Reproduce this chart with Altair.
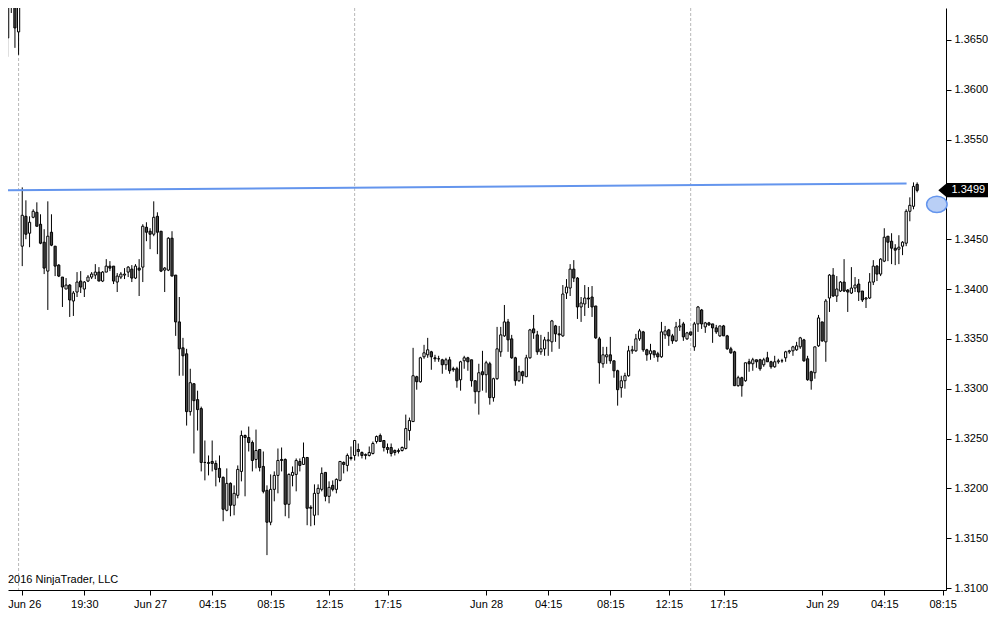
import altair as alt
import pandas as pd

# ---- data (15-minute GBP/USD bars) ----
bar_index = list(range(-5, 246))

opens = [1.3676, 1.3652, 1.3702, 1.3688, 1.3658,
 1.3443, 1.3473, 1.3456, 1.3472, 1.3477, 1.3465, 1.3447, 1.3418, 1.3457, 1.3443,
 1.3424, 1.3412, 1.3400, 1.3404, 1.3388, 1.3397, 1.3408, 1.3400, 1.3408, 1.3412,
 1.3414, 1.3417, 1.3408, 1.3417, 1.3423, 1.3423, 1.3407, 1.3412, 1.3414, 1.3417,
 1.3420, 1.3411, 1.3421, 1.3422, 1.3462, 1.3458, 1.3455, 1.3473, 1.3458, 1.3419,
 1.3419, 1.3451, 1.3414, 1.3367, 1.3341, 1.3335, 1.3277, 1.3305, 1.3289, 1.3280,
 1.3226, 1.3225, 1.3227, 1.3225, 1.3220, 1.3211, 1.3178, 1.3205, 1.3183, 1.3193,
 1.3217, 1.3253, 1.3251, 1.3246, 1.3229, 1.3239, 1.3222, 1.3198, 1.3166, 1.3199,
 1.3213, 1.3229, 1.3229, 1.3184, 1.3213, 1.3214, 1.3227, 1.3224, 1.3231, 1.3181,
 1.3173, 1.3195, 1.3199, 1.3216, 1.3192, 1.3203, 1.3199, 1.3208, 1.3226, 1.3223,
 1.3231, 1.3233, 1.3239, 1.3236, 1.3233, 1.3233, 1.3235, 1.3247, 1.3253, 1.3248,
 1.3241, 1.3241, 1.3238, 1.3237, 1.3238, 1.3240, 1.3258, 1.3267, 1.3312, 1.3307,
 1.3332, 1.3334, 1.3337, 1.3331, 1.3330, 1.3329, 1.3324, 1.3329, 1.3320, 1.3320,
 1.3309, 1.3328, 1.3331, 1.3329, 1.3308, 1.3297, 1.3317, 1.3314, 1.3325, 1.3291,
 1.3310, 1.3337, 1.3353, 1.3367, 1.3350, 1.3331, 1.3308, 1.3317, 1.3312, 1.3331,
 1.3360, 1.3354, 1.3337, 1.3340, 1.3348, 1.3347, 1.3363, 1.3355, 1.3353, 1.3396,
 1.3401, 1.3420, 1.3411, 1.3382, 1.3385, 1.3391, 1.3392, 1.3383, 1.3350, 1.3325,
 1.3332, 1.3334, 1.3328, 1.3318, 1.3301, 1.3308, 1.3313, 1.3338, 1.3338, 1.3350,
 1.3357, 1.3339, 1.3335, 1.3338, 1.3335, 1.3332, 1.3354, 1.3359, 1.3353, 1.3348,
 1.3362, 1.3365, 1.3350, 1.3357, 1.3342, 1.3365, 1.3379, 1.3362, 1.3366, 1.3365,
 1.3361, 1.3353, 1.3363, 1.3353, 1.3340, 1.3337, 1.3303, 1.3311, 1.3308, 1.3327,
 1.3325, 1.3329, 1.3329, 1.3324, 1.3331, 1.3327, 1.3322, 1.3327, 1.3328, 1.3331,
 1.3337, 1.3338, 1.3339, 1.3342, 1.3349, 1.3330, 1.3317, 1.3316, 1.3343, 1.3367,
 1.3347, 1.3391, 1.3414, 1.3393, 1.3398, 1.3407, 1.3399, 1.3396, 1.3401, 1.3405,
 1.3398, 1.3390, 1.3391, 1.3407, 1.3423, 1.3415, 1.3428, 1.3453, 1.3448, 1.3441,
 1.3440, 1.3443, 1.3446, 1.3478, 1.3483, 1.3505]

highs = [1.3690, 1.3692, 1.3710, 1.3696, 1.3695,
 1.3502, 1.3489, 1.3473, 1.3480, 1.3487, 1.3475, 1.3460, 1.3488, 1.3475, 1.3443,
 1.3425, 1.3412, 1.3411, 1.3405, 1.3398, 1.3417, 1.3418, 1.3408, 1.3414, 1.3417,
 1.3425, 1.3422, 1.3418, 1.3430, 1.3428, 1.3423, 1.3416, 1.3417, 1.3421, 1.3423,
 1.3424, 1.3425, 1.3430, 1.3465, 1.3467, 1.3461, 1.3488, 1.3477, 1.3458, 1.3422,
 1.3452, 1.3458, 1.3414, 1.3392, 1.3351, 1.3340, 1.3320, 1.3305, 1.3298, 1.3282,
 1.3248, 1.3233, 1.3248, 1.3228, 1.3233, 1.3212, 1.3220, 1.3206, 1.3203, 1.3223,
 1.3258, 1.3254, 1.3262, 1.3248, 1.3259, 1.3239, 1.3237, 1.3203, 1.3214, 1.3217,
 1.3240, 1.3241, 1.3230, 1.3215, 1.3222, 1.3230, 1.3230, 1.3246, 1.3231, 1.3183,
 1.3204, 1.3204, 1.3221, 1.3216, 1.3207, 1.3208, 1.3210, 1.3227, 1.3227, 1.3235,
 1.3242, 1.3248, 1.3245, 1.3237, 1.3235, 1.3242, 1.3247, 1.3253, 1.3255, 1.3248,
 1.3245, 1.3245, 1.3239, 1.3240, 1.3242, 1.3274, 1.3271, 1.3341, 1.3313, 1.3332,
 1.3344, 1.3351, 1.3338, 1.3334, 1.3333, 1.3330, 1.3331, 1.3332, 1.3322, 1.3322,
 1.3328, 1.3333, 1.3332, 1.3329, 1.3308, 1.3325, 1.3338, 1.3328, 1.3327, 1.3311,
 1.3362, 1.3362, 1.3384, 1.3370, 1.3354, 1.3332, 1.3323, 1.3318, 1.3334, 1.3360,
 1.3374, 1.3358, 1.3354, 1.3352, 1.3357, 1.3369, 1.3364, 1.3363, 1.3404, 1.3410,
 1.3425, 1.3429, 1.3412, 1.3392, 1.3404, 1.3402, 1.3403, 1.3383, 1.3352, 1.3342,
 1.3342, 1.3352, 1.3328, 1.3319, 1.3313, 1.3316, 1.3343, 1.3343, 1.3355, 1.3360,
 1.3358, 1.3340, 1.3345, 1.3338, 1.3337, 1.3367, 1.3363, 1.3360, 1.3355, 1.3367,
 1.3370, 1.3367, 1.3357, 1.3357, 1.3367, 1.3383, 1.3380, 1.3367, 1.3367, 1.3365,
 1.3364, 1.3363, 1.3364, 1.3354, 1.3342, 1.3338, 1.3313, 1.3312, 1.3326, 1.3330,
 1.3331, 1.3329, 1.3330, 1.3331, 1.3337, 1.3328, 1.3333, 1.3330, 1.3330, 1.3338,
 1.3339, 1.3343, 1.3347, 1.3352, 1.3350, 1.3333, 1.3318, 1.3342, 1.3374, 1.3367,
 1.3390, 1.3415, 1.3421, 1.3413, 1.3408, 1.3430, 1.3400, 1.3422, 1.3412, 1.3410,
 1.3398, 1.3392, 1.3416, 1.3429, 1.3424, 1.3431, 1.3461, 1.3453, 1.3456, 1.3445,
 1.3454, 1.3448, 1.3480, 1.3492, 1.3507, 1.3507]

lows = [1.3631, 1.3633, 1.3677, 1.3642, 1.3635,
 1.3423, 1.3450, 1.3442, 1.3471, 1.3463, 1.3445, 1.3415, 1.3379, 1.3443, 1.3413,
 1.3412, 1.3382, 1.3400, 1.3372, 1.3373, 1.3392, 1.3396, 1.3392, 1.3407, 1.3410,
 1.3410, 1.3408, 1.3407, 1.3417, 1.3418, 1.3405, 1.3397, 1.3410, 1.3410, 1.3412,
 1.3407, 1.3410, 1.3393, 1.3407, 1.3448, 1.3440, 1.3453, 1.3435, 1.3417, 1.3397,
 1.3418, 1.3413, 1.3353, 1.3313, 1.3313, 1.3263, 1.3273, 1.3235, 1.3258, 1.3217,
 1.3208, 1.3213, 1.3217, 1.3202, 1.3206, 1.3167, 1.3177, 1.3172, 1.3173, 1.3190,
 1.3207, 1.3192, 1.3237, 1.3217, 1.3220, 1.3217, 1.3195, 1.3133, 1.3163, 1.3187,
 1.3195, 1.3217, 1.3172, 1.3170, 1.3202, 1.3197, 1.3217, 1.3224, 1.3163, 1.3162,
 1.3163, 1.3173, 1.3197, 1.3187, 1.3185, 1.3197, 1.3195, 1.3207, 1.3215, 1.3217,
 1.3228, 1.3228, 1.3232, 1.3230, 1.3229, 1.3232, 1.3234, 1.3245, 1.3247, 1.3237,
 1.3235, 1.3232, 1.3233, 1.3235, 1.3237, 1.3239, 1.3248, 1.3267, 1.3299, 1.3306,
 1.3330, 1.3331, 1.3319, 1.3327, 1.3327, 1.3315, 1.3319, 1.3315, 1.3317, 1.3301,
 1.3298, 1.3320, 1.3318, 1.3302, 1.3285, 1.3274, 1.3298, 1.3296, 1.3284, 1.3287,
 1.3309, 1.3332, 1.3352, 1.3337, 1.3330, 1.3303, 1.3307, 1.3305, 1.3312, 1.3330,
 1.3350, 1.3334, 1.3334, 1.3333, 1.3333, 1.3337, 1.3347, 1.3340, 1.3352, 1.3390,
 1.3393, 1.3407, 1.3370, 1.3367, 1.3373, 1.3381, 1.3372, 1.3350, 1.3305, 1.3321,
 1.3325, 1.3325, 1.3311, 1.3283, 1.3291, 1.3300, 1.3312, 1.3335, 1.3337, 1.3348,
 1.3337, 1.3328, 1.3329, 1.3331, 1.3327, 1.3331, 1.3350, 1.3343, 1.3345, 1.3347,
 1.3358, 1.3348, 1.3349, 1.3353, 1.3338, 1.3357, 1.3360, 1.3356, 1.3363, 1.3346,
 1.3355, 1.3352, 1.3353, 1.3339, 1.3335, 1.3303, 1.3302, 1.3292, 1.3307, 1.3317,
 1.3318, 1.3321, 1.3318, 1.3322, 1.3327, 1.3320, 1.3321, 1.3325, 1.3326, 1.3327,
 1.3335, 1.3333, 1.3338, 1.3340, 1.3327, 1.3308, 1.3299, 1.3310, 1.3342, 1.3347,
 1.3327, 1.3377, 1.3392, 1.3387, 1.3397, 1.3397, 1.3377, 1.3395, 1.3397, 1.3388,
 1.3387, 1.3381, 1.3390, 1.3404, 1.3408, 1.3413, 1.3427, 1.3428, 1.3425, 1.3424,
 1.3425, 1.3434, 1.3443, 1.3468, 1.3480, 1.3497]

closes = [1.3647, 1.3686, 1.3688, 1.3662, 1.3688,
 1.3474, 1.3455, 1.3467, 1.3478, 1.3463, 1.3446, 1.3421, 1.3453, 1.3444, 1.3423,
 1.3413, 1.3402, 1.3404, 1.3389, 1.3396, 1.3407, 1.3402, 1.3407, 1.3412, 1.3415,
 1.3417, 1.3408, 1.3417, 1.3423, 1.3421, 1.3408, 1.3413, 1.3415, 1.3415, 1.3422,
 1.3411, 1.3423, 1.3419, 1.3463, 1.3457, 1.3455, 1.3472, 1.3457, 1.3418, 1.3421,
 1.3451, 1.3413, 1.3367, 1.3340, 1.3333, 1.3277, 1.3306, 1.3288, 1.3279, 1.3226,
 1.3226, 1.3226, 1.3225, 1.3219, 1.3211, 1.3179, 1.3205, 1.3183, 1.3195, 1.3219,
 1.3253, 1.3251, 1.3246, 1.3228, 1.3238, 1.3221, 1.3197, 1.3166, 1.3199, 1.3213,
 1.3228, 1.3228, 1.3184, 1.3214, 1.3216, 1.3228, 1.3223, 1.3231, 1.3180, 1.3180,
 1.3195, 1.3200, 1.3215, 1.3192, 1.3201, 1.3199, 1.3209, 1.3227, 1.3224, 1.3233,
 1.3230, 1.3248, 1.3237, 1.3233, 1.3234, 1.3236, 1.3245, 1.3252, 1.3247, 1.3241,
 1.3239, 1.3235, 1.3236, 1.3238, 1.3241, 1.3260, 1.3268, 1.3313, 1.3307, 1.3331,
 1.3336, 1.3339, 1.3332, 1.3330, 1.3330, 1.3324, 1.3329, 1.3318, 1.3319, 1.3308,
 1.3327, 1.3331, 1.3327, 1.3308, 1.3297, 1.3316, 1.3314, 1.3326, 1.3291, 1.3310,
 1.3340, 1.3354, 1.3367, 1.3349, 1.3331, 1.3308, 1.3317, 1.3313, 1.3331, 1.3359,
 1.3356, 1.3337, 1.3340, 1.3349, 1.3349, 1.3368, 1.3355, 1.3354, 1.3395, 1.3402,
 1.3420, 1.3411, 1.3382, 1.3386, 1.3391, 1.3390, 1.3382, 1.3351, 1.3326, 1.3334,
 1.3334, 1.3328, 1.3318, 1.3299, 1.3308, 1.3313, 1.3338, 1.3339, 1.3350, 1.3358,
 1.3339, 1.3334, 1.3338, 1.3334, 1.3332, 1.3357, 1.3358, 1.3353, 1.3348, 1.3362,
 1.3363, 1.3352, 1.3356, 1.3354, 1.3365, 1.3382, 1.3365, 1.3366, 1.3364, 1.3361,
 1.3357, 1.3363, 1.3353, 1.3340, 1.3336, 1.3303, 1.3311, 1.3303, 1.3326, 1.3325,
 1.3329, 1.3327, 1.3320, 1.3329, 1.3327, 1.3322, 1.3327, 1.3328, 1.3328, 1.3337,
 1.3338, 1.3342, 1.3343, 1.3351, 1.3328, 1.3309, 1.3308, 1.3342, 1.3371, 1.3348,
 1.3388, 1.3414, 1.3393, 1.3400, 1.3407, 1.3398, 1.3397, 1.3401, 1.3404, 1.3397,
 1.3389, 1.3391, 1.3407, 1.3423, 1.3415, 1.3430, 1.3452, 1.3447, 1.3441, 1.3439,
 1.3442, 1.3447, 1.3478, 1.3484, 1.3503, 1.3499]

tick_index = [0, 17, 35, 52, 68, 84, 100, 127, 144, 161, 177, 192, 219, 236, 252]
tick_labels = ["Jun 26", "19:30", "Jun 27", "04:15", "08:15", "12:15", "17:15",
               "Jun 28", "04:15", "08:15", "12:15", "17:15", "Jun 29", "04:15", "08:15"]
price_ticks = [1.3100, 1.3150, 1.3200, 1.3250, 1.3300, 1.3350, 1.3400, 1.3450,
               1.3550, 1.3600, 1.3650]
session_breaks = [-1, 91, 183]
trend_index = [-3.9, 242.1]
trend_price = [1.3499, 1.3506]
anchor_index = [250.4]
anchor_price = [1.3485]
last_price = 1.3499
copyright_text = "2016 NinjaTrader, LLC"
copyright_price = 1.3108

X_MIN, X_MAX = -3.9, 252.9
Y_MIN, Y_MAX = 1.3098, 1.3682
PLOT_W, PLOT_H = 938, 582

# ---- tables ----
n = len(bar_index)
assert len(opens) == n and len(highs) == n and len(lows) == n and len(closes) == n
candles = pd.DataFrame({
    "r": bar_index,
    "open": opens,
    "close": closes,
    "high": [max(h, o, c) for h, o, c in zip(highs, opens, closes)],
    "low": [min(l, o, c) for l, o, c in zip(lows, opens, closes)],
})
candles["dir"] = ["up" if c >= o else "down" for o, c in zip(opens, closes)]

label_expr = "".join(
    f"datum.value == {v} ? '{t}' : " for v, t in zip(tick_index, tick_labels)
) + "''"

FONT = "Liberation Sans"
xs = alt.Scale(domain=[X_MIN, X_MAX], nice=False, zero=False, padding=0)
ys = alt.Scale(domain=[Y_MIN, Y_MAX], nice=False, zero=False, padding=0)
xa = alt.Axis(values=tick_index, labelExpr=label_expr, grid=False, title=None,
              tickSize=5, labelPadding=3, domainColor="black", tickColor="black",
              labelColor="black", labelFontSize=11, labelFont=FONT,
              labelFlush=False, labelOverlap=False,
              labelOffset={"condition": {"test": "datum.value == 0", "value": 2}, "value": 0})
ya = alt.Axis(orient="right", values=price_ticks, format=".4f", grid=False, title=None,
              tickSize=5, labelPadding=3, domainColor="black", tickColor="black",
              labelColor="black", labelFontSize=11, labelFont=FONT,
              labelFlush=False, labelOverlap=False)


def X(f):
    return alt.X(f, type="quantitative", scale=xs, axis=xa)


def Y(f):
    return alt.Y(f, type="quantitative", scale=ys, axis=ya)


sessions = alt.Chart(pd.DataFrame({"r": session_breaks})).mark_rule(
    color="#b8b8b8", strokeDash=[3, 2], strokeWidth=1
).encode(x=X("r"))

wicks = alt.Chart(candles).mark_rule(color="black", strokeWidth=1, clip=True).encode(
    x=X("r"), y=Y("low"), y2="high"
)

bodies = alt.Chart(candles).mark_bar(size=2.2, stroke="black", strokeWidth=1, clip=True).encode(
    x=X("r"), y=Y("open"), y2="close",
    fill=alt.Fill("dir:N", scale=alt.Scale(domain=["up", "down"], range=["white", "#474747"]),
                  legend=None),
)

trend = alt.Chart(pd.DataFrame({"r": trend_index, "p": trend_price})).mark_line(
    color="#6495ED", strokeWidth=2, clip=True
).encode(x=X("r"), y=Y("p"))

ellipse_path = "M -1 0 A 1 0.8 0 1 1 1 0 A 1 0.8 0 1 1 -1 0 Z"
anchor = alt.Chart(pd.DataFrame({"r": anchor_index, "p": anchor_price})).mark_point(
    shape=ellipse_path, size=420, filled=True, fill="#b9cff6", stroke="#6495ED",
    strokeWidth=1.5, opacity=1
).encode(x=X("r"), y=Y("p"))

tag_df = pd.DataFrame({"r": [X_MAX], "r2": [X_MAX + 12.5],
                       "p": [last_price + 0.00075], "p2": [last_price - 0.0007]})
tag_box = alt.Chart(tag_df).mark_rect(color="black").encode(
    x=X("r"), x2="r2", y=Y("p"), y2="p2"
)
tag_arrow = alt.Chart(pd.DataFrame({"r": [X_MAX - 0.96], "p": [last_price]})).mark_point(
    shape="M 0.6 -1 L -0.6 0 L 0.6 1 Z", size=196, filled=True, color="black", opacity=1
).encode(x=X("r"), y=Y("p"))
tag_text = alt.Chart(pd.DataFrame({"r": [X_MAX + 1.5], "p": [last_price],
                                   "t": [f"{last_price:.4f}"]})).mark_text(
    align="left", baseline="middle", color="white", fontSize=11, font=FONT
).encode(x=X("r"), y=Y("p"), text="t:N")

copyright = alt.Chart(pd.DataFrame({"r": [X_MIN], "p": [copyright_price],
                                    "t": [copyright_text]})).mark_text(
    align="left", baseline="middle", color="black", fontSize=11, font=FONT
).encode(x=X("r"), y=Y("p"), text="t:N")

chart = alt.layer(
    sessions, wicks, bodies, trend, anchor, tag_box, tag_arrow, tag_text, copyright
).properties(
    width=PLOT_W, height=PLOT_H,
    autosize=alt.AutoSizeParams(type="none"),
    padding={"left": 0, "top": 0, "right": 42, "bottom": 20},
).configure_view(stroke=None)

chart.save("out.html", embed_options={"renderer": "svg", "actions": False})
